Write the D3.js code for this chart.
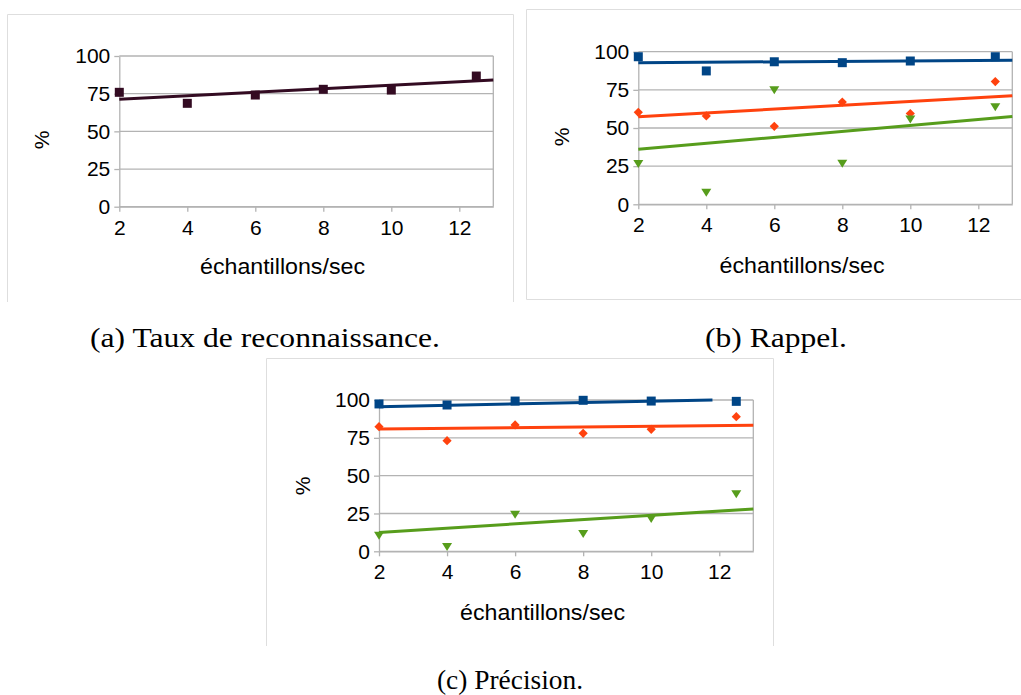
<!DOCTYPE html>
<html><head><meta charset="utf-8">
<script src="https://cdn.jsdelivr.net/npm/d3@7"></script>
<style>body{margin:0;background:#fff}svg{display:block}</style>
</head><body>
<svg id="chart" width="1021" height="695"></svg>
<script>
// ---- data ----
const samples = [2, 4, 6, 8, 10, 12.5];
const xTicks = [2, 4, 6, 8, 10, 12];
const yTicks = [0, 25, 50, 75, 100];
const xTitle = "échantillons/sec";
const yTitle = "%";
const captions = ["(a) Taux de reconnaissance.", "(b) Rappel.", "(c) Précision."];

const tauxValues = [75.9, 68.6, 74.1, 77.9, 77.4, 86.7];
const tauxTrend = [[2, 71.3], [13, 84.1]];

const rappelBlue = [96.7, 87.4, 93.4, 92.8, 93.9, 96.7];
const rappelOrange = [60.3, 57.9, 51.1, 67.0, 59.5, 80.4];
const rappelGreen = [26.4, 7.6, 74.8, 26.6, 55.6, 63.6];
const rappelTrendBlue = [[2, 92.8], [13, 94.4]];
const rappelTrendOrange = [[2, 57.4], [13, 71.2]];
const rappelTrendGreen = [[2, 36.0], [13, 57.5]];

const precBlue = [97.4, 96.7, 99.3, 99.8, 99.3, 99.1];
const precOrange = [82.4, 73.1, 83.5, 78.0, 80.6, 89.0];
const precGreen = [10.3, 2.8, 24.2, 11.4, 21.3, 37.7];
const precTrendBlue = [[2, 95.6], [11.8, 100]];
const precTrendOrange = [[2, 80.8], [13, 83.3]];
const precTrendGreen = [[2, 12.5], [13, 28.0]];

// ---- styles ----
const C_DARK = "#330b22", C_BLUE = "#004586", C_ORANGE = "#ff420e", C_GREEN = "#579d1c";
const GRID = "#b3b3b3", FRAME = "#dedede";
const SANS = "'Liberation Sans', Arial, sans-serif";
const SERIF = "'Liberation Serif', 'Times New Roman', serif";

const svg = d3.select("#chart");

function markerPath(shape) {
  if (shape === "square") return "M-4.5,-4.5H4.5V4.5H-4.5Z";
  if (shape === "diamond") return "M0,-4.6L4.6,0L0,4.6L-4.6,0Z";
  return "M-5,-4L5,-4L0,4Z"; // down triangle
}

function panel(o) {
  const g = svg.append("g");
  // frame
  g.append("path").attr("d", o.frame).attr("fill", "none").attr("stroke", FRAME).attr("stroke-width", 1);

  const x = d3.scaleLinear().domain([2, 13]).range([o.left, o.right]);
  const y = d3.scaleLinear().domain([0, 100]).range([o.bottom, o.top]);

  // gridlines
  g.append("g").selectAll("line").data(yTicks).join("line")
    .attr("x1", x(2)).attr("x2", x(13))
    .attr("y1", d => y(d)).attr("y2", d => y(d))
    .attr("stroke", GRID).attr("stroke-width", 1.3);
  // right border
  g.append("line").attr("x1", x(13)).attr("x2", x(13)).attr("y1", y(0)).attr("y2", y(100))
    .attr("stroke", GRID).attr("stroke-width", 1.3);

  const ax = g.append("g").attr("transform", `translate(0,${y(0)})`)
    .call(d3.axisBottom(x).tickValues(xTicks).tickSize(5).tickSizeOuter(0).tickPadding(8).tickFormat(d3.format("d")));
  const ay = g.append("g").attr("transform", `translate(${x(2)},0)`)
    .call(d3.axisLeft(y).tickValues(yTicks).tickSize(5).tickSizeOuter(0).tickPadding(4).tickFormat(d3.format("d")));
  [ax, ay].forEach(a => {
    a.select(".domain").attr("stroke", GRID).attr("stroke-width", 1.3);
    a.selectAll(".tick line").attr("stroke", GRID).attr("stroke-width", 1.3);
    a.selectAll(".tick text").attr("fill", "#000").style("font-family", SANS).style("font-size", "21px");
  });

  // titles
  g.append("text").attr("x", o.titleX).attr("y", o.titleY).attr("text-anchor", "middle")
    .attr("textLength", 165).attr("lengthAdjust", "spacingAndGlyphs")
    .style("font-family", SANS).style("font-size", "22px").attr("fill", "#000").text(xTitle);
  g.append("text").attr("transform", `translate(${o.pctX},${o.pctY}) rotate(-90)`)
    .attr("text-anchor", "middle").attr("dy", "0.35em")
    .style("font-family", SANS).style("font-size", "21px").attr("fill", "#000").text(yTitle);

  const line = d3.line().x(d => x(d[0])).y(d => y(d[1]));
  o.series.forEach(s => {
    g.append("path").datum(s.trend).attr("d", line).attr("fill", "none")
      .attr("stroke", s.color).attr("stroke-width", 3);
  });
  o.series.forEach(s => {
    g.append("g").selectAll("path").data(s.values).join("path")
      .attr("transform", (d, i) => `translate(${x(samples[i])},${y(d)})`)
      .attr("d", markerPath(s.shape)).attr("fill", s.color);
  });
}

panel({
  frame: "M7.5,302V14.5H513.5V302",
  left: 119.3, right: 493.3, top: 56, bottom: 206.7,
  titleX: 282.5, titleY: 274, pctX: 42, pctY: 140,
  series: [{values: tauxValues, trend: tauxTrend, color: C_DARK, shape: "square"}]
});
panel({
  frame: "M526.5,9.5H1030V299.5H526.5Z",
  left: 638.3, right: 1012.3, top: 51.7, bottom: 204.3,
  titleX: 802, titleY: 273, pctX: 562, pctY: 137,
  series: [
    {values: rappelBlue, trend: rappelTrendBlue, color: C_BLUE, shape: "square"},
    {values: rappelOrange, trend: rappelTrendOrange, color: C_ORANGE, shape: "diamond"},
    {values: rappelGreen, trend: rappelTrendGreen, color: C_GREEN, shape: "triangle"}
  ]
});
panel({
  frame: "M266.5,646V358.5H773.5V646",
  left: 379, right: 753.3, top: 400, bottom: 551.3,
  titleX: 542.5, titleY: 620, pctX: 302.5, pctY: 486,
  series: [
    {values: precBlue, trend: precTrendBlue, color: C_BLUE, shape: "square"},
    {values: precOrange, trend: precTrendOrange, color: C_ORANGE, shape: "diamond"},
    {values: precGreen, trend: precTrendGreen, color: C_GREEN, shape: "triangle"}
  ]
});

// captions
const capPos = [[90, 347, 350], [705, 347, 142], [437, 689, 146]];
svg.append("g").selectAll("text").data(captions).join("text")
  .attr("x", (d, i) => capPos[i][0]).attr("y", (d, i) => capPos[i][1])
  .attr("textLength", (d, i) => capPos[i][2]).attr("lengthAdjust", "spacingAndGlyphs")
  .style("font-family", SERIF).style("font-size", "27px").attr("fill", "#000")
  .text(d => d);
</script>
</body></html>
